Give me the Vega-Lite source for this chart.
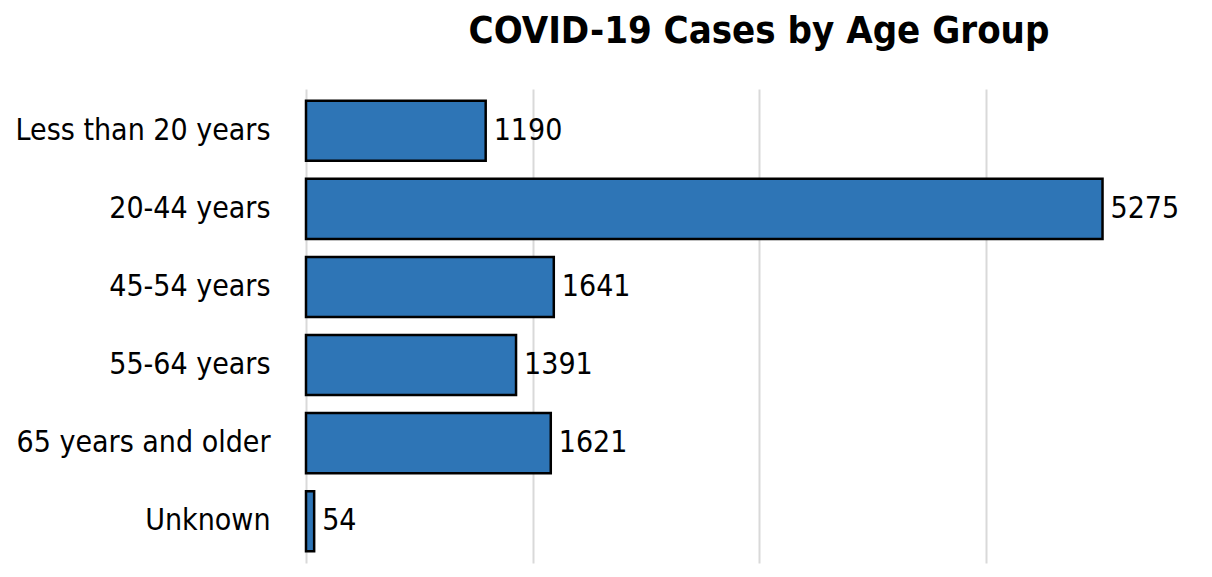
{
  "$schema": "https://vega.github.io/schema/vega-lite/v6.json",
  "autosize": {"type": "none"},
  "padding": {"left": 306, "top": 89, "right": 0, "bottom": 14},
  "width": 906,
  "height": 474,
  "background": "white",
  "title": {
    "text": "COVID-19 Cases by Age Group",
    "font": "DejaVu Sans Condensed",
    "fontSize": 38,
    "fontWeight": "bold",
    "color": "black",
    "anchor": "middle",
    "offset": 38
  },
  "data": {
    "values": [
      {"group": "Less than 20 years", "cases": 1190},
      {"group": "20-44 years", "cases": 5275},
      {"group": "45-54 years", "cases": 1641},
      {"group": "55-64 years", "cases": 1391},
      {"group": "65 years and older", "cases": 1621},
      {"group": "Unknown", "cases": 54}
    ]
  },
  "encoding": {
    "y": {
      "field": "group",
      "type": "nominal",
      "sort": null,
      "scale": {"paddingInner": 0.23, "paddingOuter": 0.15},
      "axis": {
        "title": null,
        "domain": false,
        "ticks": false,
        "labelPadding": 36,
        "labelFont": "DejaVu Sans Condensed",
        "labelFontSize": 30,
        "labelColor": "black",
        "labelLimit": 400
      }
    },
    "x": {
      "field": "cases",
      "type": "quantitative",
      "scale": {"domain": [0, 6000], "nice": false},
      "axis": {
        "title": null,
        "labels": false,
        "ticks": false,
        "domain": false,
        "values": [0, 1500, 3000, 4500],
        "grid": true,
        "gridColor": "#d9d9d9",
        "gridWidth": 2
      }
    }
  },
  "layer": [
    {
      "mark": {"type": "bar", "fill": "#2E75B6", "stroke": "black", "strokeWidth": 2.5}
    },
    {
      "mark": {
        "type": "text",
        "align": "left",
        "baseline": "middle",
        "dx": 8,
        "font": "DejaVu Sans Condensed",
        "fontSize": 30,
        "color": "black"
      },
      "encoding": {"text": {"field": "cases", "type": "quantitative"}}
    }
  ],
  "config": {"view": {"stroke": null}}
}
